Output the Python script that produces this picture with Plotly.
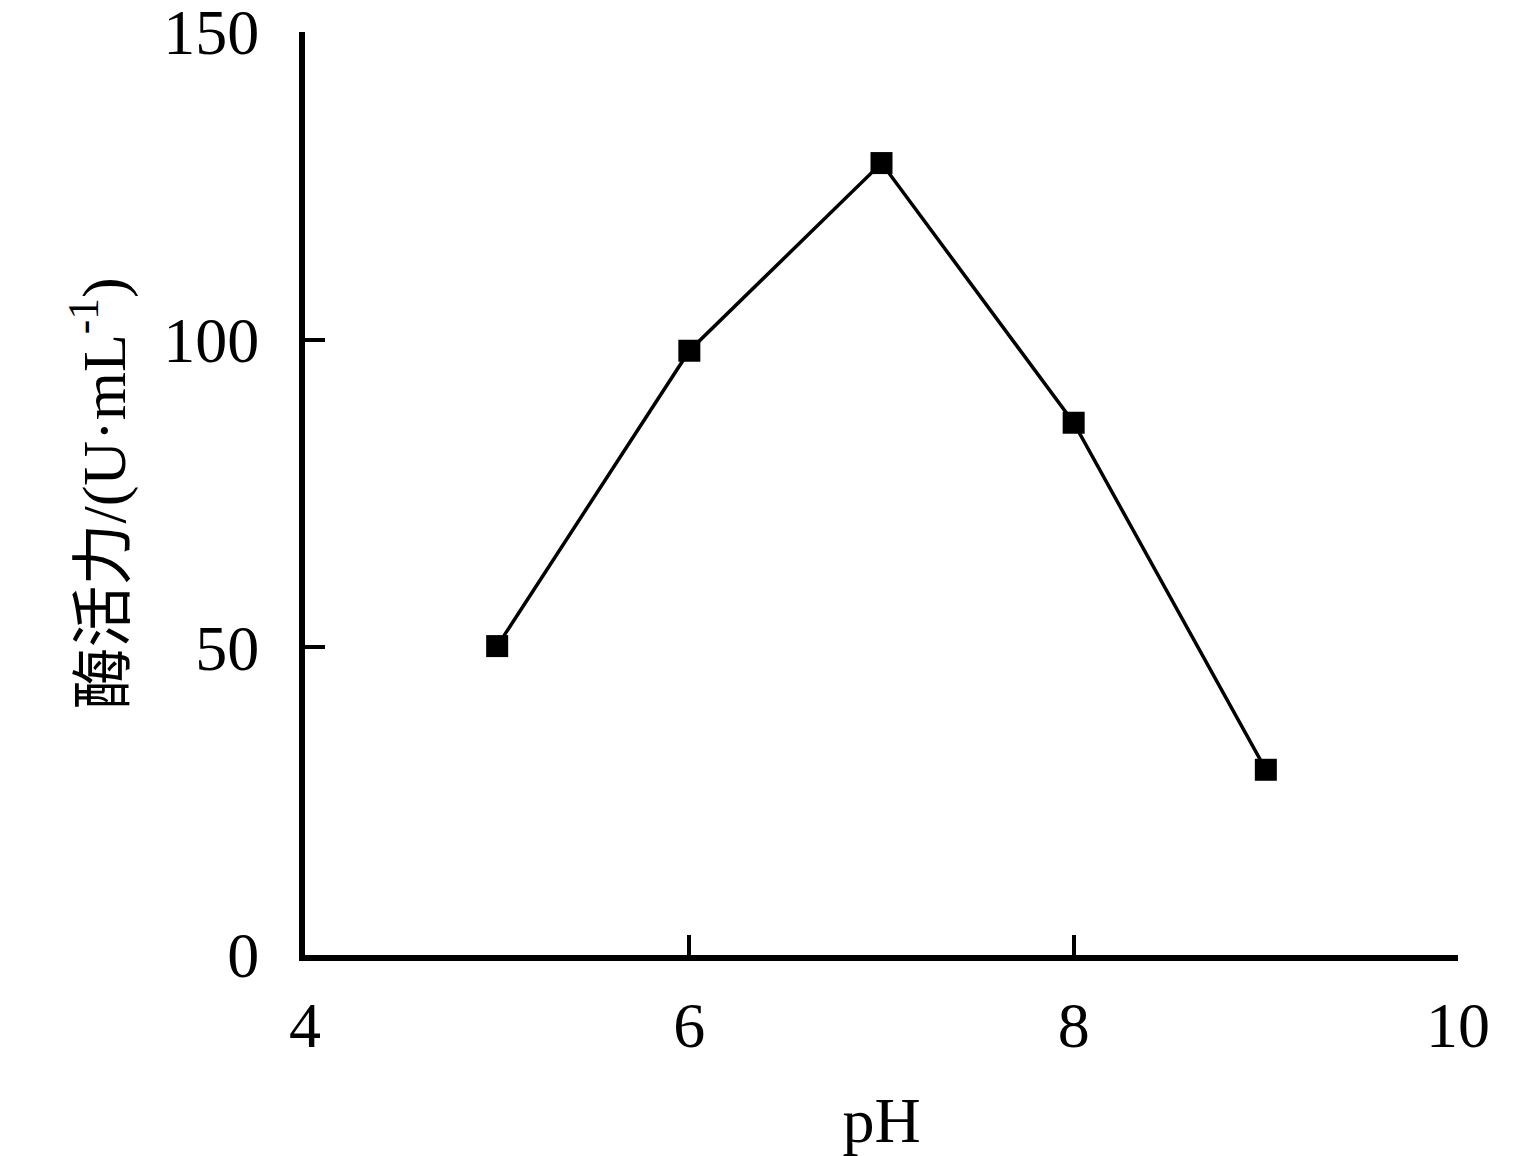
import plotly.graph_objects as go

ph = [5, 6, 7, 8, 9]
activity = [50.2, 98.2, 128.7, 86.5, 30.1]
x_ticks = [4, 6, 8, 10]
y_ticks = [0, 50, 100, 150]

font_main = "Liberation Serif, Times New Roman, Noto Sans CJK SC, serif"

fig = go.Figure()
fig.add_trace(go.Scatter(
    x=ph, y=activity, mode="lines+markers",
    line=dict(color="black", width=3.5),
    marker=dict(symbol="square", size=22, color="black"),
    showlegend=False,
))

fig.update_layout(
    width=1527, height=1148,
    margin=dict(l=297, r=77, t=24, b=201),
    plot_bgcolor="white", paper_bgcolor="white",
    font=dict(family=font_main, size=64, color="black"),
)
fig.update_xaxes(
    range=[4, 10], tickvals=x_ticks, ticktext=[str(v) for v in x_ticks],
    showgrid=False, zeroline=False, automargin=False,
    showline=True, linecolor="black", linewidth=6,
    ticks="inside", ticklen=20, tickwidth=3.5, tickcolor="black",
    ticklabelstandoff=9, ticklabeloverflow="allow",
    title=dict(text="pH", standoff=41, font=dict(size=64)),
)
fig.update_yaxes(
    range=[0, 150], tickvals=y_ticks, ticktext=[str(v) for v in y_ticks],
    showgrid=False, zeroline=False, automargin=False,
    showline=True, linecolor="black", linewidth=6,
    ticks="inside", ticklen=20, tickwidth=3.5, tickcolor="black",
    ticklabelstandoff=27, ticklabeloverflow="allow",
    title=dict(text="酶活力/(U·mL<sup>-1</sup>)", standoff=20, font=dict(size=62)),
)

fig.write_html("out.html")
